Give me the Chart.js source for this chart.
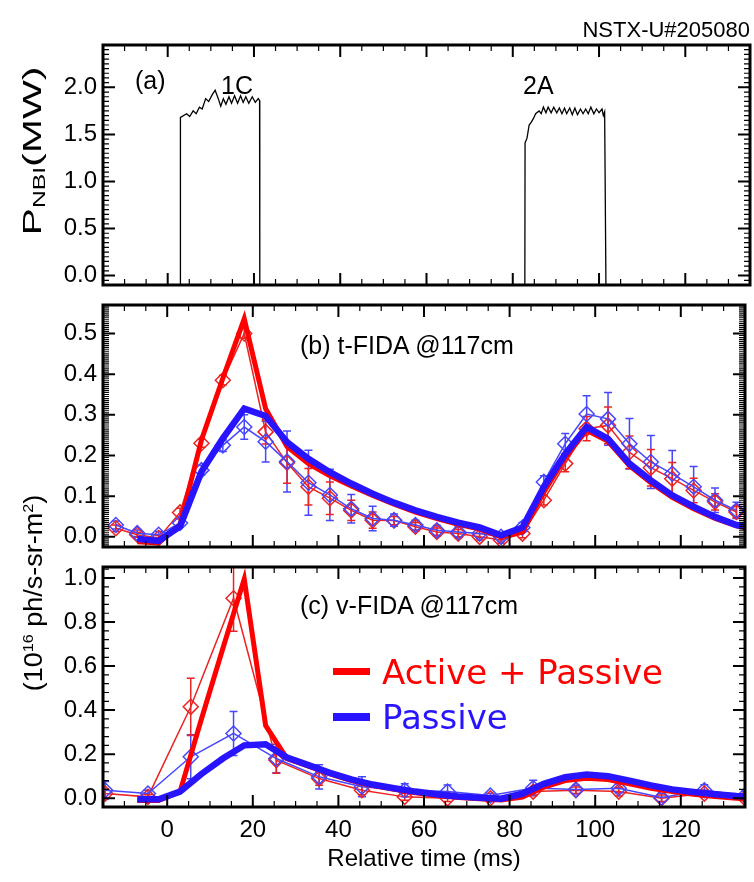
<!DOCTYPE html>
<html>
<head>
<meta charset="utf-8">
<script src="https://cdn.jsdelivr.net/npm/chart.js@4.4.1/dist/chart.umd.min.js"></script>
<style>
  body { margin: 0; background: #fff; }
  #fig { position: relative; width: 754px; height: 882px; overflow: hidden; font-family: 'Liberation Sans', Arial, sans-serif; color: #000; }
  canvas { position: absolute; left: 0; }
  .t { position: absolute; white-space: nowrap; line-height: 1; transform: translateY(-50%); }
  .rot { position: absolute; white-space: nowrap; line-height: 1; }
  .leg { font-family: 'DejaVu Sans', sans-serif; font-size: 34px; }
  .sw { position: absolute; }
  sub { font-size: 60%; vertical-align: -0.25em; }
  sup { font-size: 60%; vertical-align: 0.6em; }
</style>
</head>
<body>
<div id="fig">
  <canvas id="chartA" width="754" height="300" style="top:15px"></canvas>
  <canvas id="chartB" width="754" height="302" style="top:275px"></canvas>
  <canvas id="chartC" width="754" height="345" style="top:537px"></canvas>

  <div class="t" style="right:4px; top:30px; font-size:22px;">NSTX-U#205080</div>
  <div class="rot" style="left:33px; top:151px; font-size:26px; transform: translate(-50%, -50%) rotate(-90deg) scaleX(1.58);">P<sub>NBI</sub>(MW)</div>
  <div class="rot" style="left:33px; top:593px; font-size:25px; transform: translate(-50%, -50%) rotate(-90deg) scaleX(1.08);">(10<sup>16</sup> ph/s-sr-m<sup>2</sup>)</div>

  <div class="t" style="left:135px; top:80px; font-size:25px;">(a)</div>
  <div class="t" style="left:221px; top:85px; font-size:25px;">1C</div>
  <div class="t" style="left:523px; top:85px; font-size:25px;">2A</div>
  <div class="t" style="left:300px; top:345px; font-size:25px;">(b) t-FIDA @117cm</div>
  <div class="t" style="left:300px; top:605px; font-size:25px;">(c) v-FIDA @117cm</div>

  <div class="sw" style="left:333px; top:668px; width:37px; height:7px; background:rgb(255,0,0);"></div>
  <div class="t leg" style="left:382px; top:672px; color:rgb(255,0,0);">Active + Passive</div>
  <div class="sw" style="left:333px; top:713px; width:37px; height:8px; background:rgb(40,20,255);"></div>
  <div class="t leg" style="left:382px; top:717px; color:rgb(40,20,255);">Passive</div>
</div>

<script>
// ---- data ----
const xTicks = [0, 20, 40, 60, 80, 100, 120];
const yTicksA = [0, 0.5, 1.0, 1.5, 2.0];
const yTicksB = [0, 0.1, 0.2, 0.3, 0.4, 0.5];
const yTicksC = [0, 0.2, 0.4, 0.6, 0.8, 1.0];

// (a) NBI power, sources 1C and 2A (trace baseline sits on the bottom frame)
const beam1cTime = [2.9, 2.95, 4.4, 5.1, 5.9, 6.6, 7.35, 8.0, 8.8, 9.5, 10.3, 11.0, 11.8, 12.3, 12.9, 13.5, 14.2, 14.8, 15.5, 16.2, 16.9, 17.5, 18.1, 18.8, 19.6, 20.3, 21.0, 21.3, 21.35];
const beam1cPower = [-0.1, 1.68, 1.72, 1.69, 1.75, 1.72, 1.79, 1.77, 1.88, 1.85, 1.92, 1.97, 1.87, 1.80, 1.88, 1.82, 1.90, 1.83, 1.91, 1.83, 1.91, 1.84, 1.90, 1.83, 1.90, 1.84, 1.88, 1.86, -0.1];
const beam2aTime = [82.8, 82.85, 83.3, 83.8, 84.3, 84.8, 85.3, 86.1, 86.6, 87.1, 87.7, 88.2, 88.9, 89.5, 90.2, 90.8, 91.4, 92.0, 92.5, 93.2, 93.8, 94.4, 95.0, 95.7, 96.3, 96.9, 97.5, 98.1, 98.8, 99.4, 100.0, 100.7, 101.0, 101.3, 101.6];
const beam2aPower = [-0.1, 1.41, 1.46, 1.60, 1.63, 1.67, 1.72, 1.75, 1.72, 1.79, 1.73, 1.79, 1.73, 1.79, 1.73, 1.78, 1.72, 1.78, 1.72, 1.78, 1.71, 1.78, 1.71, 1.77, 1.72, 1.77, 1.72, 1.79, 1.72, 1.77, 1.73, 1.77, 1.70, 1.74, -0.1];

// (b) t-FIDA measured
const tfidaTime = [-12, -7, -2, 3, 8, 13, 18, 23, 28, 33, 38, 43, 48, 53, 58, 63, 68, 73, 78, 83, 88, 93, 98, 103, 108, 113, 118, 123, 128, 133];
const tfidaActive = [0.021, 0.005, -0.003, 0.06, 0.23, 0.385, 0.50, 0.258, 0.182, 0.123, 0.095, 0.065, 0.041, 0.040, 0.025, 0.012, 0.008, 0.0, -0.008, 0.008, 0.09, 0.18, 0.266, 0.274, 0.208, 0.17, 0.143, 0.114, 0.086, 0.061];
const tfidaActiveErr = [0.008, 0.006, 0.006, 0.01, 0.01, 0.012, 0.012, 0.03, 0.05, 0.045, 0.04, 0.025, 0.02, 0.01, 0.01, 0.01, 0.01, 0.008, 0.008, 0.01, 0.012, 0.02, 0.03, 0.045, 0.04, 0.045, 0.04, 0.03, 0.02, 0.015];
const tfidaPassive = [0.029, 0.009, 0.005, 0.034, 0.164, 0.225, 0.27, 0.234, 0.185, 0.133, 0.103, 0.069, 0.045, 0.041, 0.029, 0.016, 0.012, 0.008, 0.0, 0.023, 0.135, 0.229, 0.302, 0.29, 0.229, 0.184, 0.155, 0.123, 0.09, 0.065];
const tfidaPassiveErr = [0.01, 0.008, 0.008, 0.01, 0.012, 0.015, 0.03, 0.05, 0.075, 0.08, 0.063, 0.035, 0.03, 0.015, 0.012, 0.012, 0.012, 0.01, 0.01, 0.012, 0.015, 0.025, 0.045, 0.065, 0.062, 0.065, 0.057, 0.05, 0.03, 0.02];

// simulated (thick lines), shared time base for (b) and (c)
const simTime = [-7, -2, 3, 8, 13, 18, 23, 28, 33, 38, 43, 48, 53, 58, 63, 68, 73, 78, 83, 88, 93, 98, 103, 108, 113, 118, 123, 128, 133, 135];
const tfidaSimActive = [-0.012, -0.015, 0.03, 0.238, 0.39, 0.536, 0.315, 0.222, 0.18, 0.15, 0.125, 0.102, 0.08, 0.061, 0.045, 0.031, 0.019, 0.0, 0.012, 0.11, 0.195, 0.262, 0.235, 0.175, 0.133, 0.097, 0.069, 0.045, 0.027, 0.022];
const tfidaSimPassive = [-0.005, -0.01, 0.026, 0.16, 0.242, 0.315, 0.297, 0.233, 0.192, 0.159, 0.131, 0.106, 0.084, 0.065, 0.049, 0.035, 0.023, 0.004, 0.023, 0.123, 0.204, 0.27, 0.241, 0.18, 0.139, 0.102, 0.074, 0.049, 0.029, 0.025];

// (c) v-FIDA measured
const vfidaTime = [-14.5, -4.5, 5.5, 15.5, 25.5, 35.5, 45.5, 55.5, 65.5, 75.5, 85.5, 95.5, 105.5, 115.5, 125.5, 135];
const vfidaActive = [0.021, 0.006, 0.415, 0.908, 0.173, 0.089, 0.036, 0.006, 0.0, 0.0, 0.03, 0.036, 0.03, 0.0, 0.021, 0.0];
const vfidaActiveErr = [0.02, 0.01, 0.13, 0.15, 0.06, 0.03, 0.02, 0.015, 0.015, 0.01, 0.015, 0.015, 0.02, 0.015, 0.015, 0.01];
const vfidaPassive = [0.036, 0.021, 0.188, 0.294, 0.18, 0.097, 0.052, 0.036, 0.03, 0.012, 0.046, 0.039, 0.045, 0.003, 0.036, 0.012];
const vfidaPassiveErr = [0.04, 0.015, 0.1, 0.1, 0.065, 0.055, 0.045, 0.03, 0.03, 0.01, 0.035, 0.02, 0.02, 0.02, 0.025, 0.02];
const vfidaSimActive = [-0.01, -0.01, 0.03, 0.36, 0.68, 0.995, 0.33, 0.18, 0.145, 0.11, 0.08, 0.057, 0.04, 0.025, 0.012, 0.003, -0.003, -0.008, 0.005, 0.05, 0.08, 0.09, 0.085, 0.065, 0.045, 0.03, 0.018, 0.008, 0.0, -0.002];
const vfidaSimPassive = [-0.005, -0.005, 0.03, 0.11, 0.18, 0.24, 0.245, 0.185, 0.15, 0.115, 0.085, 0.062, 0.045, 0.03, 0.018, 0.008, 0.002, -0.002, 0.02, 0.065, 0.095, 0.108, 0.1, 0.08, 0.058, 0.04, 0.028, 0.018, 0.01, 0.008];

// ---- styling ----
const FONT = 'Liberation Sans, Arial, sans-serif';
const RED = 'rgb(255,0,0)';
const BLUE = 'rgb(40,20,255)';
const RED_THIN = 'rgb(235,35,35)';
const BLUE_THIN = 'rgb(70,70,255)';

const pts = (xs, ys) => xs.map((x, i) => ({ x: x, y: ys[i] }));

// IDL-style box: thick frame with inward major/minor ticks on all four sides
const idlFrame = {
    id: 'idlFrame',
    afterDraw(chart, args, o) {
        const { ctx, chartArea: a } = chart;
        const xs = chart.scales.x, ys = chart.scales.y;
        ctx.save();
        ctx.strokeStyle = '#000';

        const drawTicks = (scale, step, majors, vertical) => {
            const start = Math.ceil(scale.min / step);
            const end = Math.floor(scale.max / step);
            for (let k = start; k <= end; k++) {
                const v = k * step;
                const major = majors.some(m => Math.abs(m - v) < step / 10);
                const len = major ? 12 : 6;
                ctx.lineWidth = major ? 2 : 1.2;
                const p = scale.getPixelForValue(v);
                ctx.beginPath();
                if (vertical) {
                    ctx.moveTo(a.left, p); ctx.lineTo(a.left + len, p);
                    ctx.moveTo(a.right, p); ctx.lineTo(a.right - len, p);
                } else {
                    ctx.moveTo(p, a.bottom); ctx.lineTo(p, a.bottom - len);
                    ctx.moveTo(p, a.top); ctx.lineTo(p, a.top + len);
                }
                ctx.stroke();
            }
        };
        drawTicks(xs, o.xMinor, xTicks, false);
        drawTicks(ys, o.yMinor, o.yMajor, true);

        ctx.lineWidth = 3;
        ctx.strokeRect(a.left, a.top, a.right - a.left, a.bottom - a.top);
        ctx.restore();
    }
};

// vertical error bars with small caps, taken from dataset.errors
const errorBars = {
    id: 'errorBars',
    beforeDatasetsDraw(chart) {
        const { ctx, chartArea: a } = chart;
        const ys = chart.scales.y;
        ctx.save();
        ctx.beginPath();
        ctx.rect(a.left, a.top, a.right - a.left, a.bottom - a.top);
        ctx.clip();
        chart.data.datasets.forEach((ds, i) => {
            if (!ds.errors) return;
            const meta = chart.getDatasetMeta(i);
            ctx.strokeStyle = ds.borderColor;
            ctx.lineWidth = 1.5;
            ctx.beginPath();
            meta.data.forEach((pt, j) => {
                const v = ds.data[j].y, e = ds.errors[j];
                const top = ys.getPixelForValue(v + e);
                const bot = ys.getPixelForValue(v - e);
                ctx.moveTo(pt.x, top); ctx.lineTo(pt.x, bot);
                ctx.moveTo(pt.x - 4, top); ctx.lineTo(pt.x + 4, top);
                ctx.moveTo(pt.x - 4, bot); ctx.lineTo(pt.x + 4, bot);
            });
            ctx.stroke();
        });
        ctx.restore();
    }
};

Chart.register(idlFrame, errorBars);

function yAxis(min, max, ticks) {
    return {
        min: min,
        max: max,
        afterFit: (s) => { s.width = 103; s.paddingTop = 0; s.paddingBottom = 0; },
        afterBuildTicks: (s) => { s.ticks = ticks.map(v => ({ value: v })); },
        grid: { display: false, drawTicks: false },
        border: { display: false },
        ticks: {
            autoSkip: false,
            padding: 6,
            color: '#000',
            font: { family: FONT, size: 24 },
            callback: (v) => v.toFixed(1),
        },
    };
}

function xAxis(showLabels) {
    if (!showLabels) {
        return { type: 'linear', min: -15, max: 135, display: false };
    }
    return {
        type: 'linear',
        min: -15,
        max: 135,
        afterFit: (s) => { s.height = 75; s.paddingLeft = 0; s.paddingRight = 0; },
        afterBuildTicks: (s) => { s.ticks = xTicks.map(v => ({ value: v })); },
        grid: { display: false, drawTicks: false },
        border: { display: false },
        ticks: {
            autoSkip: false,
            maxRotation: 0,
            padding: 9,
            color: '#000',
            font: { family: FONT, size: 24 },
        },
        title: {
            display: true,
            text: 'Relative time (ms)',
            color: '#000',
            font: { family: FONT, size: 24 },
            padding: { top: 0, bottom: 8 },
        },
    };
}

function measured(label, xs, ys, errs, color, order) {
    return {
        label: label,
        data: pts(xs, ys),
        errors: errs,
        borderColor: color,
        borderWidth: 1.5,
        pointStyle: 'rectRot',
        pointRadius: 7.5,
        pointBorderWidth: 1.5,
        pointBorderColor: color,
        pointBackgroundColor: 'rgba(0,0,0,0)',
        tension: 0,
        fill: false,
        order: order,
    };
}

function simulated(label, xs, ys, color, width, order) {
    return {
        label: label,
        data: pts(xs, ys),
        borderColor: color,
        borderWidth: width,
        pointRadius: 0,
        tension: 0,
        fill: false,
        order: order,
    };
}

function makeChart(id, datasets, x, y, padding, frame) {
    return new Chart(document.getElementById(id).getContext('2d'), {
        type: 'line',
        data: { datasets: datasets },
        options: {
            responsive: false,
            animation: false,
            layout: { padding: padding },
            scales: { x: x, y: y },
            plugins: {
                legend: { display: false },
                tooltip: { enabled: false },
                idlFrame: frame,
            },
        },
    });
}

// (a) NBI power
makeChart('chartA', [
    simulated('1C', beam1cTime, beam1cPower, '#000', 1.3, 0),
    simulated('2A', beam2aTime, beam2aPower, '#000', 1.3, 0),
], xAxis(false), yAxis(-0.1, 2.45, yTicksA),
{ left: 0, right: 4, top: 30, bottom: 30 },
{ xMinor: 5, yMinor: 0.05, yMajor: yTicksA });

// (b) t-FIDA
makeChart('chartB', [
    simulated('Passive (sim)', simTime, tfidaSimPassive, BLUE, 6.5, 0),
    simulated('Active + Passive (sim)', simTime, tfidaSimActive, RED, 5, 1),
    measured('Passive', tfidaTime, tfidaPassive, tfidaPassiveErr, BLUE_THIN, 2),
    measured('Active + Passive', tfidaTime, tfidaActive, tfidaActiveErr, RED_THIN, 3),
], xAxis(false), yAxis(-0.025, 0.57, yTicksB),
{ left: 0, right: 4, top: 30, bottom: 30 },
{ xMinor: 5, yMinor: 0.005, yMajor: yTicksB });

// (c) v-FIDA
makeChart('chartC', [
    simulated('Passive (sim)', simTime, vfidaSimPassive, BLUE, 6.5, 0),
    simulated('Active + Passive (sim)', simTime, vfidaSimActive, RED, 5, 1),
    measured('Passive', vfidaTime, vfidaPassive, vfidaPassiveErr, BLUE_THIN, 2),
    measured('Active + Passive', vfidaTime, vfidaActive, vfidaActiveErr, RED_THIN, 3),
], xAxis(true), yAxis(-0.04, 1.05, yTicksC),
{ left: 0, right: 4, top: 30, bottom: 0 },
{ xMinor: 5, yMinor: 0.04, yMajor: yTicksC });
</script>
</body>
</html>
